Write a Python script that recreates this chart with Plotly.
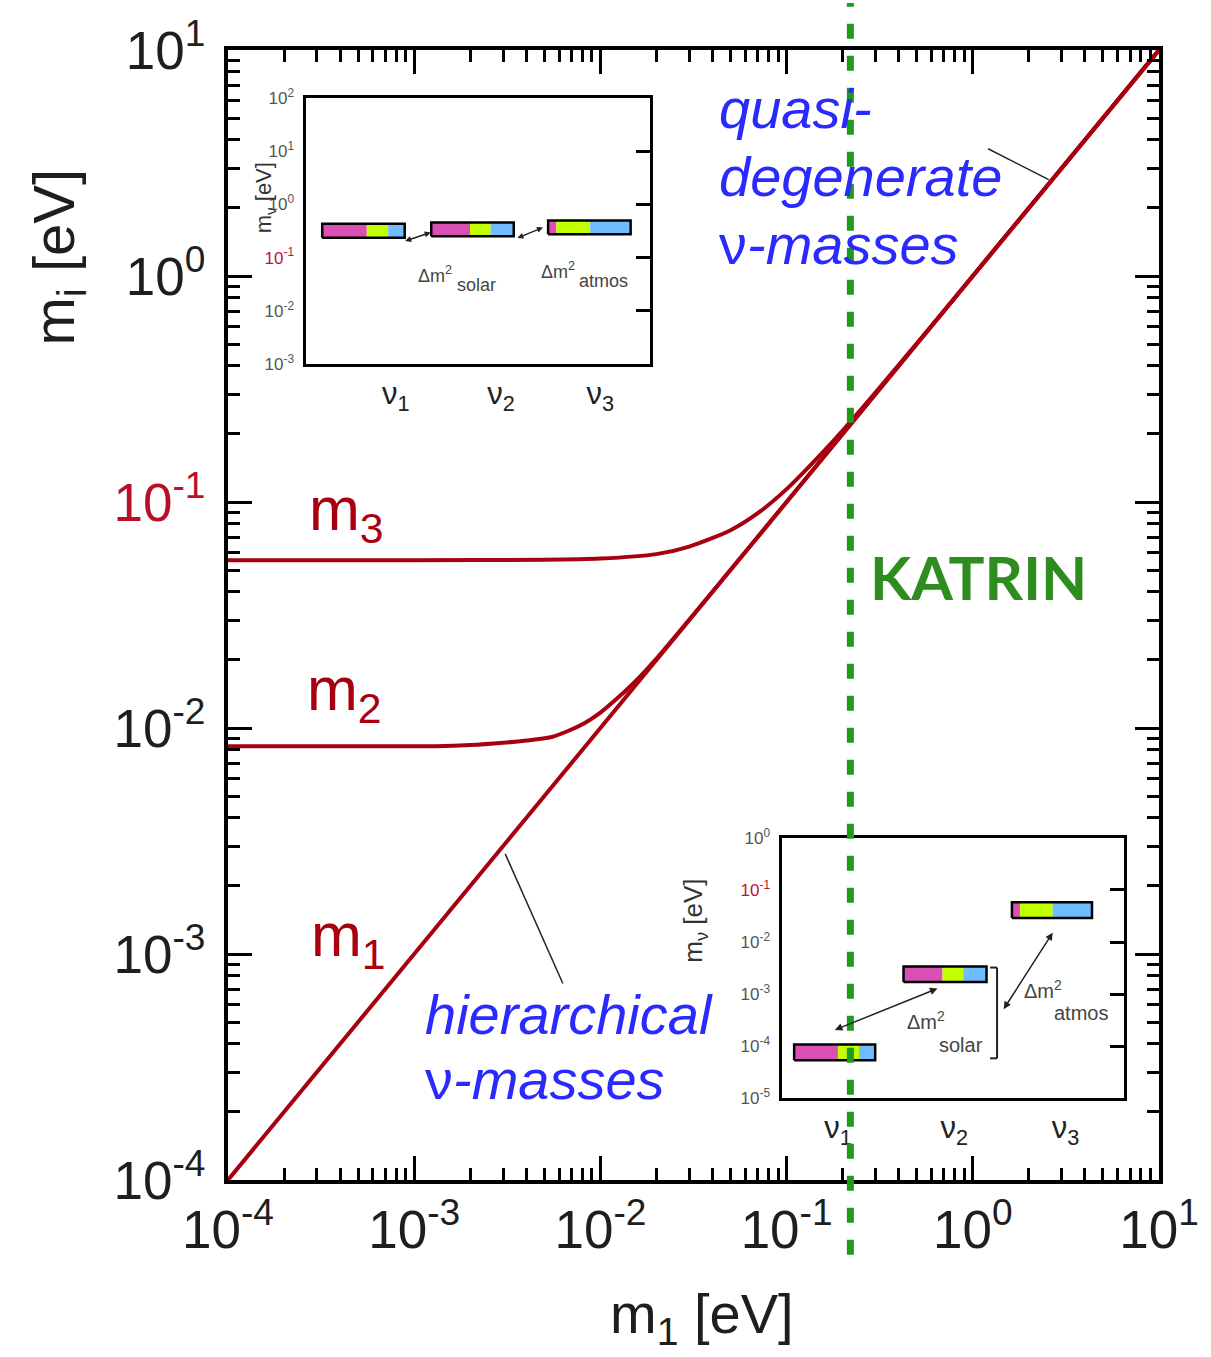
import plotly.graph_objects as go

# ---------------- data ----------------
decades = [1e-4, 1e-3, 1e-2, 1e-1, 1, 10]
decade_labels = ["10<sup>-4</sup>", "10<sup>-3</sup>", "10<sup>-2</sup>",
                 "10<sup>-1</sup>", "10<sup>0</sup>", "10<sup>1</sup>"]

m1_x = [1e-4, 1e-3, 1e-2, 1e-1, 1, 10]
m1_y = [1e-4, 1e-3, 1e-2, 1e-1, 1, 10]

m2_x = [1e-4, 1e-3, 1.3e-3, 2e-3, 3e-3, 4e-3, 5.4e-3, 6.7e-3, 8.2e-3, 1e-2, 1.24e-2, 1.52e-2,
        2e-2, 5e-2, 1e-1, 1, 10]
m2_y = [0.0083, 0.0083, 0.0083, 0.0084, 0.0086, 0.0088, 0.0091, 0.0097, 0.0105, 0.0117,
        0.0136, 0.0159, 0.0203, 0.0501, 0.1001, 1.0, 10]

m3_x = [1e-4, 1e-3, 5e-3, 1e-2, 2e-2, 3e-2, 5e-2, 7e-2, 0.1, 0.15, 0.2, 0.3, 0.5, 1, 10]
m3_y = [0.0553, 0.0553, 0.0555, 0.0562, 0.0588, 0.0635, 0.0750, 0.0892, 0.114, 0.160,
        0.207, 0.305, 0.503, 1.0, 10]

katrin_limit = 0.22  # eV

# insets
states = ["ν<sub>1</sub>", "ν<sub>2</sub>", "ν<sub>3</sub>"]
flavor_e = [0.54, 0.47, 0.10]
flavor_mu = [0.26, 0.25, 0.41]
flavor_tau = [0.20, 0.28, 0.49]
qd_mass = [0.32, 0.34, 0.37]          # quasi-degenerate inset (eV)
hier_mass = [7.6e-5, 2.4e-3, 0.041]   # hierarchical inset (eV)

qd_ticks = [1e-3, 1e-2, 1e-1, 1, 10, 100]
qd_ticklabels = ["10<sup>-3</sup>", "10<sup>-2</sup>", "<span style='color:#c0103a'>10<sup>-1</sup></span>",
                 "10<sup>0</sup>", "10<sup>1</sup>", "10<sup>2</sup>"]
hi_ticks = [1e-5, 1e-4, 1e-3, 1e-2, 1e-1, 1]
hi_ticklabels = ["10<sup>-5</sup>", "10<sup>-4</sup>", "10<sup>-3</sup>", "10<sup>-2</sup>",
                 "<span style='color:#c0103a'>10<sup>-1</sup></span>", "10<sup>0</sup>"]

# ---------------- layout helpers ----------------
W, H = 1211, 1357
L, R, T, B = 228, 1165, 47, 1180


def px(X):
    return (X - L) / (R - L)


def py(Y):
    return (B - Y) / (B - T)


FONT = "Liberation Sans, Arial, Helvetica, sans-serif"
RED = "#a8000f"
BLUE = "#2a2aff"
GREEN = "#1e9a1e"
FLAVOR_COLORS = ["#d94fb3", "#c2ff00", "#6fbcff"]

fig = go.Figure()

# main curves
for xs, ys in [(m1_x, m1_y), (m2_x, m2_y), (m3_x, m3_y)]:
    fig.add_trace(go.Scatter(x=xs, y=ys, mode="lines", xaxis="x", yaxis="y",
                             line=dict(color=RED, width=4, shape="spline", smoothing=0.7),
                             hoverinfo="skip", showlegend=False))

# inset bars
def add_bars(masses, xleft, xright, half_dec, xa, ya):
    for i, m in enumerate(masses):
        lo = m * 10 ** (-half_dec)
        hi = m * 10 ** (half_dec)
        fr = [0, flavor_e[i], flavor_e[i] + flavor_mu[i], flavor_e[i] + flavor_mu[i] + flavor_tau[i]]
        w = xright[i] - xleft[i]
        for k in range(3):
            a = xleft[i] + w * fr[k]
            b = xleft[i] + w * fr[k + 1]
            fig.add_trace(go.Scatter(x=[a, b, b, a, a], y=[lo, lo, hi, hi, lo], mode="lines",
                                     fill="toself", fillcolor=FLAVOR_COLORS[k],
                                     line=dict(width=0), xaxis=xa, yaxis=ya,
                                     hoverinfo="skip", showlegend=False))
        fig.add_trace(go.Scatter(x=[xleft[i], xright[i], xright[i], xleft[i], xleft[i]],
                                 y=[lo, lo, hi, hi, lo], mode="lines",
                                 line=dict(color="black", width=2.5), xaxis=xa, yaxis=ya,
                                 hoverinfo="skip", showlegend=False))


add_bars(qd_mass, [0.16, 1.27, 2.46], [1.0, 2.11, 3.30], 0.13, "x2", "y2")
add_bars(hier_mass, [0.12, 1.24, 2.35], [0.95, 2.09, 3.17], 0.15, "x3", "y3")

# dummy traces for right-hand tick axes
fig.add_trace(go.Scatter(x=[None], y=[None], xaxis="x2", yaxis="y4", showlegend=False))
fig.add_trace(go.Scatter(x=[None], y=[None], xaxis="x3", yaxis="y5", showlegend=False))

main_axis = dict(type="log", showline=True, linewidth=4, linecolor="black", mirror="ticks",
                 ticks="inside", ticklen=24, tickwidth=3, tickcolor="black",
                 tickvals=decades, ticktext=decade_labels, showgrid=False, zeroline=False,
                 tickfont=dict(family=FONT, size=53, color="#1e1e1e"),
                 minor=dict(ticks="inside", ticklen=12, tickwidth=2.5, tickcolor="black",
                            dtick="D1", showgrid=False))

ylabels = list(decade_labels)
ylabels[3] = "<span style='color:#b8102a'>10<sup>-1</sup></span>"

inset_x = dict(range=[0, 3.5], showline=True, linewidth=3, linecolor="black", mirror=True,
               ticks="", showgrid=False, zeroline=False,
               tickfont=dict(family=FONT, size=31, color="#222"))
inset_y = dict(type="log", showline=True, linewidth=3, linecolor="black", mirror=True,
               ticks="", showgrid=False, zeroline=False, ticklabelstandoff=6,
               tickfont=dict(family=FONT, size=17, color="#555"))
inset_yr = dict(type="log", side="right", ticks="inside", ticklen=14, tickwidth=2.5,
                tickcolor="black", showticklabels=False, showgrid=False, zeroline=False,
                showline=False)

fig.update_layout(
    width=W, height=H,
    margin=dict(l=L, r=W - R, t=T, b=H - B),
    paper_bgcolor="white", plot_bgcolor="rgba(0,0,0,0)",
    showlegend=False,
    xaxis=dict(main_axis, domain=[0, 1], anchor="y", range=[-4, 1]),
    yaxis=dict(main_axis, domain=[0, 1], anchor="x", range=[-4, 1], ticktext=ylabels,
               ticklabelstandoff=8),
    xaxis2=dict(inset_x, domain=[px(307), px(653)], anchor="y2",
                tickvals=[0.91, 1.98, 2.99], ticktext=states),
    yaxis2=dict(inset_y, domain=[py(362), py(95)], anchor="x2", range=[-3, 2],
                tickvals=qd_ticks, ticktext=qd_ticklabels),
    yaxis4=dict(inset_yr, overlaying="y2", anchor="x2", range=[-3, 2], tickvals=qd_ticks),
    xaxis3=dict(inset_x, domain=[px(786), px(1130)], anchor="y3",
                tickvals=[0.57, 1.76, 2.90], ticktext=states),
    yaxis3=dict(inset_y, domain=[py(1098), py(837)], anchor="x3", range=[-5, 0],
                tickvals=hi_ticks, ticktext=hi_ticklabels),
    yaxis5=dict(inset_yr, overlaying="y3", anchor="x3", range=[-5, 0], tickvals=hi_ticks),
)

ann = []


def text(x, y, s, size, color="#1e1e1e", xanchor="left", angle=0, family=FONT):
    ann.append(dict(x=px(x), y=py(y), xref="paper", yref="paper", text=s, showarrow=False,
                    xanchor=xanchor, yanchor="middle", textangle=angle,
                    font=dict(family=family, size=size, color=color)))


# axis titles
text(57, 255, "m<sub>i</sub> [eV]", 58, xanchor="center", angle=-90)
text(705, 1318, "m<sub>1</sub> [eV]", 56, xanchor="center")

# curve labels
text(308, 512, "m<sub>3</sub>", 61, RED)
text(305, 692, "m<sub>2</sub>", 61, RED)
text(310, 939, "m<sub>1</sub>", 61, RED)

# regime labels
text(720, 106, "<i>quasi-</i>", 56, BLUE)
text(720, 174, "<i>degenerate</i>", 56, BLUE)
text(720, 242, "ν<i>-masses</i>", 56, BLUE)
text(424, 1014, "<i>hierarchical</i>", 56, BLUE)
text(424, 1079, "ν<i>-masses</i>", 56, BLUE)

# KATRIN
text(872, 575, "<b>KATRIN</b>", 60, "#2f8c1f", family="Lato, Open Sans, sans-serif")

# inset y titles
text(265, 195, "m<sub>ν</sub> [eV]", 22, "#333", xanchor="center", angle=-90)
text(698, 920, "m<sub>ν</sub> [eV]", 26, "#333", xanchor="center", angle=-90)

# inset Δm² labels
text(417, 272, "Δm<sup>2</sup>", 18, "#444")
text(456, 283, "solar", 18, "#444")
text(541, 268, "Δm<sup>2</sup>", 18, "#444")
text(579, 279, "atmos", 18, "#444")
text(909, 1020, "Δm<sup>2</sup>", 20, "#444")
text(942, 1045, "solar", 20, "#444")
text(1027, 989, "Δm<sup>2</sup>", 20, "#444")
text(1057, 1013, "atmos", 20, "#444")

# double arrows in insets
def darrow(x0, y0, x1, y1, size=1.0):
    ann.append(dict(x=px(x1), y=py(y1), xref="paper", yref="paper",
                    ax=x0 - x1, ay=y0 - y1, axref="pixel", ayref="pixel", text="",
                    showarrow=True, arrowhead=2, startarrowhead=2, arrowside="end+start",
                    arrowsize=size, startarrowsize=size, arrowwidth=1.5, arrowcolor="#222"))


darrow(405, 239, 432, 230, 0.8)
darrow(518, 236, 545, 225, 0.8)
darrow(838, 1030, 942, 988)
darrow(1008, 1010, 1058, 932)

fig.update_layout(annotations=ann)

shapes = []
# leader lines
shapes.append(dict(type="line", xref="paper", yref="paper", x0=px(993), y0=py(146),
                   x1=px(1054), y1=py(177), line=dict(color="#222", width=1.5)))
shapes.append(dict(type="line", xref="paper", yref="paper", x0=px(507), y0=py(853),
                   x1=px(565), y1=py(983), line=dict(color="#222", width=1.5)))
# bracket in hierarchical inset
for (a, b, c, d) in [(995, 967, 1002, 967), (1002, 967, 1002, 1058), (995, 1058, 1002, 1058)]:
    shapes.append(dict(type="line", xref="paper", yref="paper", x0=px(a), y0=py(b),
                       x1=px(c), y1=py(d), line=dict(color="#222", width=2)))
# KATRIN line
shapes.append(dict(type="line", xref="x", yref="paper", x0=katrin_limit, x1=katrin_limit,
                   y0=py(1255), y1=py(0), layer="above",
                   line=dict(color=GREEN, width=7, dash="15px,17px")))
fig.update_layout(shapes=shapes)

fig.write_html("out.html")
